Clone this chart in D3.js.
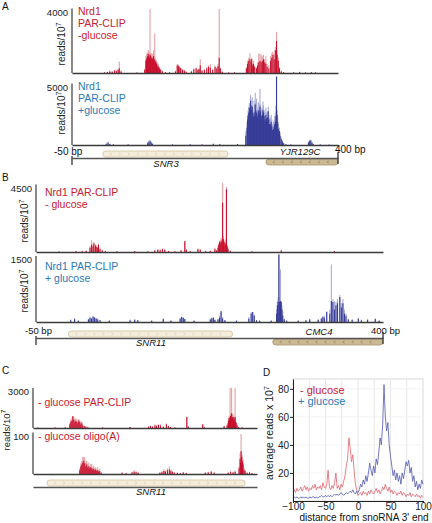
<!DOCTYPE html>
<html><head><meta charset="utf-8">
<script src="https://cdn.jsdelivr.net/npm/d3@7"></script>
<style>body{margin:0;background:#fff}svg{display:block}</style>
</head><body><svg id="chart" width="432" height="523"></svg>
<script>
// ---------------- DATA ----------------
// Panel A, Nrd1 PAR-CLIP -glucose (bp, reads/10^7 : darker layer / lighter layer)
const aTopBp   = [5,10,14,18,22,25,28,30,33,60,73,75,76,77,78,79,80,81,82,83,84,85,86,87,88,89,90,91,92,93,94,95,96,98,100,103,108,115,125,128,130,131,133,134,137,140,143,152,156,160,163,165,167,170,174,178,181,184,188,192,195,197,199,201,204,215,225,245,247,249,251,253,254,255,257,259,262,264,266,268,270,272,274,276,278,280,283,286,288,290,292,294,296,297,299,301,304,308,325,335,345,355,362];
const aTopDark = [40,60,100,80,150,120,200,300,100,30,200,800,900,1000,1100,1250,1100,1000,1200,1100,1000,950,900,1000,1100,900,800,750,700,600,500,450,400,300,200,100,50,40,100,500,450,400,300,300,200,150,80,100,250,300,200,250,500,150,200,300,400,350,200,400,300,450,1000,300,80,30,40,300,600,800,900,700,900,500,600,400,300,500,700,800,700,800,900,700,600,400,300,800,1000,1200,900,1500,2100,1200,800,300,100,50,40,60,40,50,40];
const aTopLight= [60,80,150,120,200,200,300,750,150,40,300,1100,1200,1300,1350,1500,1400,1250,4200,1300,1300,1150,1200,1300,1500,1100,2600,950,900,800,700,600,600,400,300,150,60,50,150,600,550,500,380,350,250,200,100,150,300,350,250,300,900,200,250,400,500,600,250,500,350,600,4200,350,100,40,50,400,800,1000,1300,900,1000,600,800,500,400,700,1300,1250,1200,1100,1200,900,1100,600,500,1100,1300,1400,1200,1700,2700,1500,1000,400,150,60,50,80,50,60,50];
// Panel A, Nrd1 PAR-CLIP +glucose
const aBotBp   = [8,11,14,20,45,78,80,82,84,86,120,150,170,189,200,230,244,246,247,248,249,250,251,252,253,254,255,256,257,258,259,260,261,262,263,264,265,266,267,268,269,270,271,272,273,274,275,276,277,278,279,280,281,282,283,284,285,286,287,288,289,290,291,292,293,294,295,296,297,298,299,300,301,302,304,306,308,312,320,350,352,354,356,358,370,385];
const aBotDark = [100,200,80,50,40,150,250,350,200,100,40,50,40,80,60,80,800,1500,2200,2500,2800,3200,3000,3800,3400,3000,3300,2600,2400,2800,2500,3500,3000,2800,2600,2400,2900,3000,2700,3300,2900,2200,2500,2600,3000,2800,2500,2200,2000,2600,2300,2100,2400,2900,2200,1800,1500,1800,2000,1600,1300,1200,1400,1600,1800,2000,2500,5900,2600,2000,1400,1000,1200,800,500,300,150,60,40,200,350,400,200,80,40,30];
const aBotLight= [150,300,120,80,60,250,350,450,300,150,60,80,60,150,100,100,1200,2000,2600,3000,3300,3600,3500,4300,3900,3400,4100,3000,2800,3800,3400,4500,3600,4000,3200,3000,3700,3600,3400,4830,3500,2600,3100,3200,3750,3400,3000,2800,2500,3200,2800,2600,2900,3300,2600,2300,2000,2400,2600,2200,1800,1600,2000,2200,2500,2800,3400,5900,3000,2400,1800,1400,1500,1100,700,400,200,80,60,300,450,450,250,100,60,40];
// Panel B, Nrd1 PAR-CLIP - glucose
const bTopBp   = [-20,2,10,15,20,22,24,25,27,28,30,31,33,36,40,55,78,95,104,108,111,114,117,122,130,138,143,145,150,160,163,170,176,182,184,186,187,188,189,190,191,192,193,194,195,196,197,198,199,202,230,268,337];
const bTopDark = [30,50,60,80,300,500,400,600,450,350,300,500,200,100,60,40,60,40,100,150,120,200,150,60,40,100,760,150,60,200,150,60,80,200,100,300,500,700,600,800,700,3460,900,700,500,600,4400,400,200,80,40,100,60];
const bTopLight= [40,80,80,100,400,830,600,700,550,500,400,600,300,150,80,60,80,50,150,200,200,250,200,80,60,150,760,200,80,250,200,80,100,300,150,400,600,800,700,1000,900,4850,1100,800,700,900,4570,500,300,100,60,150,80];
// Panel B, Nrd1 PAR-CLIP + glucose
const bBotBp   = [-5,0,5,18,20,22,24,26,28,30,33,45,72,78,82,100,115,125,137,139,141,143,155,176,178,180,182,186,188,190,192,195,210,226,229,231,233,236,240,255,262,263,264,265,266,267,268,269,270,272,275,290,300,305,316,320,322,324,327,331,333,335,337,339,341,344,346,348,350,352,355,360,368,372,380,390,395];
const bBotDark = [40,70,30,60,100,80,130,100,80,60,40,30,40,50,40,30,70,30,80,120,100,70,30,60,90,100,50,60,100,260,80,40,30,80,200,240,150,40,30,30,200,400,480,1620,480,500,480,300,150,60,30,30,40,60,50,80,120,100,240,200,500,480,300,400,450,600,350,450,200,150,60,50,80,40,50,70,30];
const bBotLight= [60,90,40,80,130,100,150,120,100,80,50,40,60,70,50,40,90,40,100,130,110,80,40,80,100,120,60,80,150,260,120,50,40,120,240,240,180,50,40,40,300,500,600,1620,600,1260,500,400,250,80,40,40,50,80,70,100,150,150,260,300,1380,550,500,480,550,650,450,550,300,200,80,70,100,60,70,90,40];
// Panel C, - glucose PAR-CLIP (position along SNR11 region)
const cTopPos  = [10,44,65,74,76,78,80,82,84,86,88,90,92,94,96,98,100,103,106,110,140,195,232,236,240,245,248,252,256,262,268,272,276,285,309,312,341,344,384,390,392,393,394,395,396,397,398,399,400,401,402,403,404,405,406,407,408,410,413,420];
const cTopDark = [30,40,50,300,500,600,975,700,500,600,500,400,600,500,300,400,200,150,100,60,40,80,100,150,100,200,150,250,200,100,300,150,80,40,900,100,300,60,150,200,400,600,800,700,900,1000,800,1200,900,800,900,700,800,600,900,500,400,200,80,40];
const cTopLight= [40,60,70,400,700,800,975,900,700,800,700,600,750,650,500,550,300,200,150,80,60,100,150,200,150,300,250,300,300,150,375,200,100,60,900,150,300,80,150,300,600,800,1000,900,3300,1200,1100,3300,1200,1000,1100,900,1000,900,3300,700,500,300,100,60];
// Panel C, - glucose oligo(A)
const cBotPos  = [94,96,98,100,102,104,106,108,110,112,114,116,118,120,122,124,126,128,130,132,134,137,179,187,199,203,207,211,255,259,263,266,270,274,277,280,284,290,296,302,308,346,352,358,364,392,397,402,406,414,416,417,418,419,420,421,422,424,426,430,435,440];
const cBotDark = [10,20,25,30,35,28,20,25,18,20,15,18,15,12,14,10,12,8,10,6,8,3,3,2,4,6,5,3,3,5,8,6,10,12,8,5,3,3,2,4,2,3,4,6,3,3,5,4,6,15,40,30,60,45,35,30,25,10,8,3,4,2];
const cBotLight= [15,28,35,45,45,44,30,35,28,30,22,26,27,18,22,16,18,12,18,10,13,5,5,3,6,10,8,5,5,8,12,9,15,20,12,8,5,4,3,5,3,5,6,8,5,5,8,6,9,20,55,40,105,52,50,45,38,15,12,5,6,3];
// Panel D, average reads x 10^7 around snoRNA 3' ends
const dDist = d3.range(-100, 101, 2);
const dMinusGlc = [7,8,6,9,7,8,10,7,9,11,8,10,7,9,8,11,9,12,8,10,9,11,8,13,10,9,12,22,10,8,11,9,13,20,9,11,8,12,10,14,18,25,30,45,38,28,33,22,12,8,4,5,6,4,7,5,6,4,7,5,8,6,5,7,9,6,8,5,7,10,8,12,9,7,10,6,8,5,7,6,4,6,5,7,4,6,5,3,5,4,6,3,5,4,3,5,3,4,2,4,3];
const dPlusGlc  = [2,3,2,3,2,2,3,2,3,2,3,2,2,3,2,3,3,2,3,2,3,3,4,3,3,4,3,4,3,4,3,4,5,4,5,4,5,6,5,4,5,6,5,6,7,6,8,6,5,7,6,8,12,10,15,12,18,14,20,27,22,18,25,20,30,26,35,45,40,55,83,60,50,56,40,32,25,18,22,15,20,14,18,12,20,16,22,28,25,29,20,24,14,18,10,14,8,12,9,15,12];
const dXTicks = [-100,-50,0,50,100];
const dYTicks = [20,40,60,80];
// gene annotations (bp)
const genesA = [{name:"SNR3", start:2, end:214, strand:1}, {name:"YJR129C", start:278, end:400, strand:-1}];
const genesB = [{name:"SNR11", start:-8, end:205, strand:1}, {name:"CMC4", start:257, end:400, strand:-1}];
const genesC = [{name:"SNR11", start:28, end:426, strand:1}];

// ---------------- DRAWING ----------------
const FONT = '"Liberation Sans", Arial, Helvetica, sans-serif';
const RED = "#c8102e", RED_L = "#e5a0a6", BLUE = "#363c96", BLUE_L = "#a9acd8";
const RED_T = "#c8202f", BLUE_T = "#2c79b5", AX = "#3a3a3a";
const svg = d3.select("#chart").attr("font-family", FONT);

function txt(x, y, s, o = {}) {
  const t = svg.append("text").attr("x", x).attr("y", y).text(s)
    .attr("font-size", o.size || 10).attr("fill", o.fill || "#111")
    .attr("text-anchor", o.anchor || "start");
  if (o.italic) t.attr("font-style", "italic");
  return t;
}
function supLabel(x, y, base, sup, size, rotate) {
  const t = svg.append("text").attr("font-size", size).attr("fill", "#222")
    .attr("text-anchor", "middle")
    .attr("transform", `translate(${x},${y}) rotate(${rotate})`);
  t.append("tspan").text(base);
  t.append("tspan").text(sup).attr("font-size", size * 0.72).attr("dy", -size * 0.4);
}

function track(c) {
  const y = d3.scaleLinear().domain([0, c.max]).range([c.base, c.top]);
  const g = svg.append("g");
  const bw = 1.1;
  g.append("g").selectAll("rect").data(c.pos).join("rect")
    .attr("x", d => c.x(d) - bw / 2).attr("width", bw)
    .attr("y", (d, i) => y(c.light[i])).attr("height", (d, i) => c.base - y(c.light[i]))
    .attr("fill", c.cl);
  g.append("g").selectAll("rect").data(c.pos).join("rect")
    .attr("x", d => c.x(d) - bw / 2).attr("width", bw)
    .attr("y", (d, i) => y(c.dark[i])).attr("height", (d, i) => c.base - y(c.dark[i]))
    .attr("fill", c.cd);
  const x0 = c.x.range()[0];
  const ax = g.append("g").attr("transform", `translate(${x0},0)`)
    .call(d3.axisLeft(y).tickValues([c.max]).tickSize(0).tickPadding(4).tickFormat(d3.format("d")));
  ax.select(".domain").attr("d", `M0,${c.base}V${c.top - 3.5}`).attr("stroke", AX).attr("stroke-width", 1.2);
  ax.selectAll("text").attr("font-size", 9.5).attr("font-family", FONT).attr("fill", "#222");
  const bx = g.append("g").attr("transform", `translate(0,${c.base})`)
    .call(d3.axisBottom(c.x).tickValues([]).tickSizeOuter(0));
  bx.select(".domain").attr("stroke", AX).attr("stroke-width", 1.5);
  c.lines.forEach((s, i) => txt(x0 + c.tx, c.ty[i], s, {fill: c.tcol, size: 10.5}));
}

function geneTrack(x, lineY, genes, withEnds) {
  const g = svg.append("g");
  const [r0, r1] = x.range();
  genes.forEach(gn => {
    const up = gn.strand > 0;
    const bx0 = x(gn.start), bx1 = x(gn.end);
    const y0 = up ? lineY - 7 : lineY + 1, h = 6;
    g.append("rect").attr("x", bx0).attr("y", y0).attr("width", bx1 - bx0).attr("height", h)
      .attr("rx", 3).attr("fill", up ? "#f5eddb" : "#cbb993")
      .attr("stroke", up ? "#d2c19c" : "#a8956c").attr("stroke-width", 0.8);
    d3.range(bx0 + 8, bx1 - 5, 9).forEach(cx => {
      const d = up ? `M${cx - 1},${y0 + 1.6}L${cx + 1},${y0 + 3}L${cx - 1},${y0 + 4.4}`
                   : `M${cx + 1},${y0 + 1.6}L${cx - 1},${y0 + 3}L${cx + 1},${y0 + 4.4}`;
      g.append("path").attr("d", d).attr("fill", "none").attr("stroke", up ? "#d8cbb0" : "#8f7d58").attr("stroke-width", 0.6);
    });
  });
  const ax = g.append("g").attr("transform", `translate(0,${lineY})`)
    .call(d3.axisBottom(x).tickValues([]).tickSizeOuter(0));
  ax.select(".domain").attr("stroke", "#555").attr("stroke-width", 1.6);
  if (withEnds) {
    g.append("line").attr("x1", r0).attr("x2", r0).attr("y1", lineY - 2).attr("y2", lineY + 7).attr("stroke", "#333").attr("stroke-width", 1.3);
    g.append("line").attr("x1", r1).attr("x2", r1).attr("y1", lineY - 6).attr("y2", lineY + 6).attr("stroke", "#333").attr("stroke-width", 1.3);
  }
}

// ===== Panel A =====
txt(2, 10, "A", {size: 10});
const xA = d3.scaleLinear().domain([-50, 400]).range([72, 338]);
track({x: xA, base: 73, top: 12, max: 4000, pos: aTopBp, dark: aTopDark, light: aTopLight, cd: RED, cl: RED_L,
  lines: ["Nrd1", "PAR-CLIP", "-glucose"], tx: 6, ty: [15, 27, 38.5], tcol: RED_T});
track({x: xA, base: 145, top: 87, max: 5000, pos: aBotBp, dark: aBotDark, light: aBotLight, cd: BLUE, cl: BLUE_L,
  lines: ["Nrd1", "PAR-CLIP", "+glucose"], tx: 6, ty: [90, 102, 114], tcol: BLUE_T});
supLabel(65, 44, "reads/10", "7", 10, -90);
supLabel(65, 113, "reads/10", "7", 10, -90);
geneTrack(xA, 158, genesA, true);
txt(54, 155, "-50 bp", {size: 10});
txt(335, 153, "400 bp", {size: 10});
txt(300, 155, "YJR129C", {size: 9.5, italic: true, anchor: "middle"});
txt(166, 167, "SNR3", {size: 9.5, italic: true, anchor: "middle"});

// ===== Panel B =====
txt(2, 181, "B", {size: 10});
const xB = d3.scaleLinear().domain([-50, 400]).range([36, 383]);
track({x: xB, base: 252, top: 188, max: 4500, pos: bTopBp, dark: bTopDark, light: bTopLight, cd: RED, cl: RED_L,
  lines: ["Nrd1 PAR-CLIP", "- glucose"], tx: 9, ty: [196, 208], tcol: RED_T});
track({x: xB, base: 322, top: 259.5, max: 1500, pos: bBotBp, dark: bBotDark, light: bBotLight, cd: BLUE, cl: BLUE_L,
  lines: ["Nrd1 PAR-CLIP", "+ glucose"], tx: 9, ty: [269.5, 281.5], tcol: BLUE_T});
supLabel(28, 221, "reads/10", "7", 10, -90);
supLabel(28, 291, "reads/10", "7", 10, -90);
geneTrack(xB, 338, genesB, true);
txt(25, 334, "-50 bp", {size: 9.5});
txt(371, 334, "400 bp", {size: 9.5});
txt(319, 335, "CMC4", {size: 9.5, italic: true, anchor: "middle"});
txt(151, 346, "SNR11", {size: 9.5, italic: true, anchor: "middle"});

// ===== Panel C =====
txt(2, 374, "C", {size: 10});
const xC = d3.scaleLinear().domain([0, 450]).range([33, 257]);
track({x: xC, base: 428, top: 391.5, max: 3000, pos: cTopPos, dark: cTopDark, light: cTopLight, cd: RED, cl: RED_L,
  lines: ["- glucose PAR-CLIP"], tx: 5, ty: [406], tcol: RED_T});
track({x: xC, base: 474, top: 436, max: 100, pos: cBotPos, dark: cBotDark, light: cBotLight, cd: RED, cl: RED_L,
  lines: ["- glucose oligo(A)"], tx: 5, ty: [440], tcol: RED_T});
supLabel(9.5, 430, "reads/10", "7", 9.5, -90);
geneTrack(xC, 487, genesC, false);
txt(151, 495, "SNR11", {size: 9.5, italic: true, anchor: "middle"});

// ===== Panel D =====
txt(263, 376, "D", {size: 10});
const xD = d3.scaleLinear().domain([-100, 100]).range([293, 423]);
const yD = d3.scaleLinear().domain([0, 87]).range([501, 379]);
const gD = svg.append("g");
gD.append("rect").attr("x", 293).attr("y", 379).attr("width", 130).attr("height", 122)
  .attr("fill", "none").attr("stroke", "#cfcfcf").attr("stroke-width", 0.8);
gD.append("g").selectAll("line").data(d3.range(-75, 100, 25)).join("line")
  .attr("x1", d => xD(d)).attr("x2", d => xD(d)).attr("y1", yD.range()[0]).attr("y2", yD.range()[1])
  .attr("stroke", "#dcdcdc").attr("stroke-width", 0.7);
gD.append("g").selectAll("line").data(dYTicks).join("line")
  .attr("x1", xD.range()[0]).attr("x2", xD.range()[1]).attr("y1", d => yD(d)).attr("y2", d => yD(d))
  .attr("stroke", "#efefef").attr("stroke-width", 0.7);
const lineGen = arr => d3.line().x((d, i) => xD(dDist[i])).y(d => yD(d))(arr);
gD.append("path").attr("d", lineGen(dMinusGlc)).attr("fill", "none").attr("stroke", "#e06a74").attr("stroke-width", 0.85);
gD.append("path").attr("d", lineGen(dPlusGlc)).attr("fill", "none").attr("stroke", "#5b61b3").attr("stroke-width", 0.85);
const axDy = gD.append("g").attr("transform", "translate(293,0)")
  .call(d3.axisLeft(yD).tickValues(dYTicks).tickSize(3).tickPadding(1).tickSizeOuter(0));
const axDx = gD.append("g").attr("transform", "translate(0,501)")
  .call(d3.axisBottom(xD).tickValues(dXTicks).tickSize(2).tickPadding(0).tickSizeOuter(0));
[axDy, axDx].forEach(a => {
  a.selectAll("text").attr("font-size", 10).attr("font-family", FONT).attr("fill", "#222");
  a.selectAll("line").attr("stroke", "#222");
  a.select(".domain").attr("stroke", "#222").attr("stroke-width", 1);
});
axDx.selectAll("text").attr("dy", "0.68em");
txt(300, 394, "- glucose", {size: 11, fill: RED_T});
txt(298, 405, "+ glucose", {size: 11, fill: BLUE_T});
supLabel(273, 433, "average reads x 10", "7", 10.5, -90);
txt(364, 521, "distance from snoRNA 3' end", {size: 10, anchor: "middle"});
</script>
</body></html>
